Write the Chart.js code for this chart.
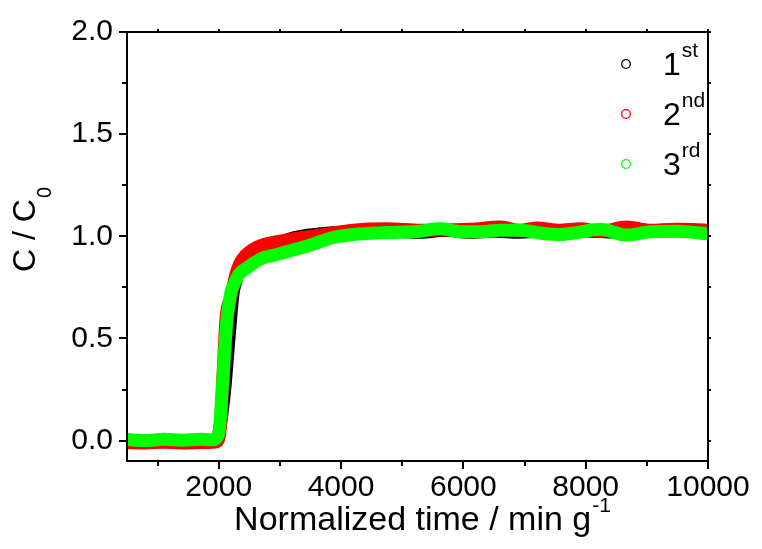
<!DOCTYPE html>
<html>
<head>
<meta charset="utf-8">
<script src="https://cdn.jsdelivr.net/npm/chart.js@4.4.0/dist/chart.umd.min.js"></script>
<style>
  html, body { margin: 0; padding: 0; background: #fff; }
</style>
</head>
<body>
<canvas id="grafico" width="762" height="549"></canvas>
<script>
// ciclo 1 (preto)
const tempo1 = [500, 800, 1100, 1400, 1700, 1900, 1980, 2016, 2060, 2098, 2170, 2234, 2261, 2330, 2440, 2700, 3000, 3143, 3340, 3665, 4000, 4400, 4800, 5300, 5700, 6100, 6500, 6900, 7300, 7700, 8100, 8500, 8900, 9300, 9700, 10000];
const conc1 = [0.0, -0.005, 0.0, -0.005, 0.0, 0.0, 0.01, 0.056, 0.15, 0.25, 0.51, 0.72, 0.76, 0.83, 0.88, 0.93, 0.965, 0.985, 1.0, 1.012, 1.02, 1.02, 1.025, 1.02, 1.03, 1.02, 1.025, 1.02, 1.025, 1.03, 1.025, 1.02, 1.025, 1.03, 1.025, 1.02];

// ciclo 2 (vermelho)
const tempo2 = [500, 800, 1100, 1400, 1700, 1900, 1990, 2025, 2070, 2120, 2196, 2240, 2278, 2343, 2441, 2571, 2718, 2984, 3257, 3530, 3857, 4204, 4754, 5298, 5700, 6114, 6604, 6931, 7204, 7584, 7910, 8237, 8673, 9053, 9489, 10000];
const conc2 = [-0.01, -0.012, -0.008, -0.012, -0.01, -0.008, 0.0, 0.06, 0.32, 0.6, 0.7, 0.76, 0.81, 0.865, 0.908, 0.938, 0.958, 0.975, 0.99, 1.0, 1.015, 1.03, 1.037, 1.029, 1.032, 1.034, 1.045, 1.029, 1.04, 1.029, 1.037, 1.024, 1.045, 1.029, 1.034, 1.03];

// ciclo 3 (verde)
const tempo3 = [500, 800, 1100, 1400, 1700, 1900, 1970, 2011, 2067, 2131, 2196, 2250, 2331, 2469, 2713, 2984, 3257, 3530, 3857, 4204, 4754, 5298, 5624, 5951, 6386, 6604, 6931, 7306, 7584, 7856, 8237, 8673, 9053, 9489, 10000];
const conc3 = [0.005, 0.0, 0.006, 0.002, 0.006, 0.004, 0.015, 0.056, 0.30, 0.58, 0.72, 0.765, 0.814, 0.847, 0.893, 0.913, 0.936, 0.96, 0.993, 1.009, 1.018, 1.025, 1.038, 1.022, 1.024, 1.03, 1.029, 1.014, 1.009, 1.018, 1.034, 1.006, 1.022, 1.025, 1.012];

const ticksX = [1000, 2000, 3000, 4000, 5000, 6000, 7000, 8000, 9000, 10000];
const ticksY = [0, 0.25, 0.5, 0.75, 1.0, 1.25, 1.5, 1.75, 2.0];

const legendaTexto = ["1", "2", "3"];
const legendaSup = ["st", "nd", "rd"];
const cores = ["#000000", "#ff0000", "#00ff00"];

const fonte = "'Liberation Sans', Arial, sans-serif";

function juntar(xs, ys) {
  const pts = [];
  for (let i = 0; i < xs.length; i++) {
    pts.push({ x: xs[i], y: ys[i] });
  }
  return pts;
}

function serie(xs, ys, cor, ordem) {
  return {
    data: juntar(xs, ys),
    borderColor: cor,
    backgroundColor: cor,
    borderWidth: 13,
    borderCapStyle: "round",
    borderJoinStyle: "round",
    pointRadius: 0,
    showLine: true,
    fill: false,
    cubicInterpolationMode: "monotone",
    clip: 0,
    order: ordem,
  };
}

// moldura, ticks, titulos e legenda desenhados à mão
const moldura = {
  id: "moldura",
  afterDatasetsDraw(chart) {
    const ctx = chart.ctx;
    const a = chart.chartArea;
    const sx = chart.scales.x;
    const sy = chart.scales.y;
    ctx.save();
    ctx.strokeStyle = "#000";
    ctx.lineWidth = 2;
    ctx.strokeRect(a.left, a.top, a.right - a.left, a.bottom - a.top);

    ctx.beginPath();
    for (let i = 0; i < ticksX.length; i++) {
      const px = Math.round(sx.getPixelForValue(ticksX[i]));
      const major = ticksX[i] % 2000 == 0;
      const len = major ? 8 : 5;
      ctx.moveTo(px, a.bottom);
      ctx.lineTo(px, a.bottom + len);
      ctx.moveTo(px, a.top);
      ctx.lineTo(px, a.top - 3);
    }
    for (let i = 0; i < ticksY.length; i++) {
      const py = Math.round(sy.getPixelForValue(ticksY[i]));
      const major = Math.abs(ticksY[i] * 2 - Math.round(ticksY[i] * 2)) < 1e-6;
      const len = major ? 8 : 5;
      ctx.moveTo(a.left, py);
      ctx.lineTo(a.left - len, py);
      ctx.moveTo(a.right, py);
      ctx.lineTo(a.right + 3, py);
    }
    ctx.stroke();
    ctx.restore();
  },
  afterDraw(chart) {
    const ctx = chart.ctx;
    const a = chart.chartArea;
    ctx.save();
    ctx.fillStyle = "#000";
    ctx.textBaseline = "alphabetic";
    ctx.textAlign = "left";

    // titulo eixo x
    ctx.font = "34px " + fonte;
    const tx = "Normalized time / min g";
    const wx = ctx.measureText(tx).width;
    ctx.font = "21px " + fonte;
    const wsx = ctx.measureText("-1").width;
    const x0 = 422 - (wx + wsx) / 2;
    ctx.font = "34px " + fonte;
    ctx.fillText(tx, x0, 530);
    ctx.font = "21px " + fonte;
    ctx.fillText("-1", x0 + wx + 1, 512);

    // titulo eixo y
    ctx.translate(35, 272);
    ctx.rotate(-Math.PI / 2);
    ctx.font = "32px " + fonte;
    const ty = "C / C";
    const wy = ctx.measureText(ty).width;
    ctx.fillText(ty, 0, 0);
    ctx.font = "20px " + fonte;
    ctx.fillText("0", wy + 1, 16);
    ctx.setTransform(1, 0, 0, 1, 0, 0);

    // legenda
    for (let i = 0; i < legendaTexto.length; i++) {
      const base = 75 + i * 50;
      ctx.beginPath();
      ctx.strokeStyle = cores[i];
      ctx.lineWidth = 1.3;
      ctx.arc(626, base - 11, 4.3, 0, Math.PI * 2);
      ctx.stroke();
      ctx.font = "32px " + fonte;
      ctx.fillText(legendaTexto[i], 663, base);
      const w = ctx.measureText(legendaTexto[i]).width;
      ctx.font = "21px " + fonte;
      ctx.fillText(legendaSup[i], 663 + w + 1, base - 18);
    }
    ctx.restore();
  },
};

const grafico = new Chart(document.getElementById("grafico"), {
  type: "scatter",
  data: {
    datasets: [
      serie(tempo1, conc1, cores[0], 3),
      serie(tempo2, conc2, cores[1], 2),
      serie(tempo3, conc3, cores[2], 1),
    ],
  },
  options: {
    responsive: false,
    animation: false,
    devicePixelRatio: 1,
    layout: { padding: { top: 32, right: 54, left: 0, bottom: 0 } },
    plugins: {
      legend: { display: false },
      tooltip: { enabled: false },
    },
    scales: {
      x: {
        type: "linear",
        min: 500,
        max: 10000,
        afterFit: function (s) { s.height = 88; },
        afterBuildTicks: function (s) {
          s.ticks = ticksX.map(function (v) { return { value: v }; });
        },
        grid: { display: false, drawTicks: false },
        border: { display: false },
        ticks: {
          color: "#000",
          font: { family: fonte, size: 30 },
          padding: 9,
          maxRotation: 0,
          autoSkip: false,
          callback: function (v) { return v % 2000 == 0 ? String(v) : ""; },
        },
      },
      y: {
        type: "linear",
        min: -0.1,
        max: 2.0,
        afterFit: function (s) { s.width = 127; },
        afterBuildTicks: function (s) {
          s.ticks = ticksY.map(function (v) { return { value: v }; });
        },
        grid: { display: false, drawTicks: false },
        border: { display: false },
        ticks: {
          color: "#000",
          font: { family: fonte, size: 30 },
          padding: 14,
          autoSkip: false,
          callback: function (v) {
            return Math.abs(v * 2 - Math.round(v * 2)) < 1e-6 ? v.toFixed(1) : "";
          },
        },
      },
    },
  },
  plugins: [moldura],
});
</script>
</body>
</html>
